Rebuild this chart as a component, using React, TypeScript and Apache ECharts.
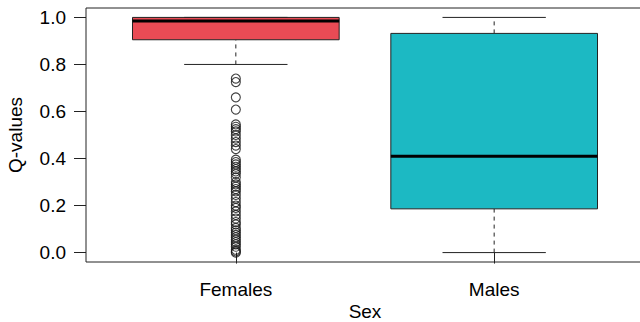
import React, { useEffect, useRef } from "react";
import * as echarts from "echarts";

const categories = ["Females", "Males"];
const whiskerLow = [0.8, 0.0];
const q1 = [0.905, 0.186];
const medians = [0.985, 0.41];
const q3 = [1.0, 0.932];
const whiskerHigh = [1.0, 1.0];
const boxColors = ["#E94B55", "#1CB9C3"];
const femaleOutliers = [
  0.74, 0.725, 0.66, 0.608, 0.545, 0.535, 0.525, 0.515, 0.5, 0.485, 0.47, 0.455, 0.44,
  0.395, 0.385, 0.375, 0.365, 0.355, 0.345, 0.335, 0.32, 0.3, 0.29, 0.28, 0.27, 0.26,
  0.245, 0.23, 0.215, 0.2, 0.19, 0.175, 0.16, 0.145, 0.13, 0.12, 0.105, 0.095, 0.085,
  0.075, 0.065, 0.055, 0.045, 0.035, 0.025, 0.012, 0.005, 0.0,
];
const yTicks = [0, 0.2, 0.4, 0.6, 0.8, 1.0];
const xTicks = [1, 2];

const FONT = "'Liberation Sans', Arial, sans-serif";

export default function App() {
  const ref = useRef<HTMLDivElement>(null);
  useEffect(() => {
    if (!ref.current) return;
    const chart = echarts.init(ref.current, null, { renderer: "svg" });
    const boxData = categories.map((_, i) => [
      i + 1,
      whiskerLow[i],
      q1[i],
      medians[i],
      q3[i],
      whiskerHigh[i],
    ]);
    const outlierData = femaleOutliers.map((v) => [1, v]);
    chart.setOption({
      animation: false,
      textStyle: { fontFamily: FONT },
      grid: {
        left: 86,
        top: 8,
        right: -4,
        bottom: 60,
        outerBoundsMode: "none",
        containLabel: false,
        show: true,
        borderColor: "#222",
        borderWidth: 1,
        backgroundColor: "transparent",
      },
      xAxis: {
        type: "value",
        min: 0.42,
        max: 2.58,
        name: "Sex",
        nameLocation: "middle",
        nameMoveOverlap: false,
        nameGap: 40,
        nameTextStyle: { fontSize: 19, color: "#000", fontFamily: FONT, lineHeight: 19 },
        axisLine: { show: false },
        splitLine: { show: false },
        axisTick: {
          show: true,
          customValues: xTicks,
          length: 11,
          lineStyle: { color: "#222", width: 1 },
        },
        axisLabel: {
          customValues: xTicks,
          formatter: (v: number) => categories[Math.round(v) - 1] ?? "",
          fontSize: 19,
          color: "#000",
          margin: 18,
          fontFamily: FONT,
        },
      },
      yAxis: {
        type: "value",
        min: -0.04,
        max: 1.04,
        name: "Q-values",
        nameLocation: "middle",
        nameMoveOverlap: false,
        nameRotate: 90,
        nameGap: 61,
        nameTextStyle: { fontSize: 19, color: "#000", fontFamily: FONT },
        axisLine: { show: false },
        splitLine: { show: false },
        axisTick: {
          show: true,
          customValues: yTicks,
          length: 12,
          lineStyle: { color: "#222", width: 1 },
        },
        axisLabel: {
          customValues: yTicks,
          formatter: (v: number) => v.toFixed(1),
          fontSize: 19,
          color: "#000",
          margin: 20,
          fontFamily: FONT,
        },
      },
      series: [
        {
          type: "custom",
          data: boxData,
          dimensions: ["x", "lo", "q1", "med", "q3", "hi"],
          encode: { x: 0, y: [1, 2, 3, 4, 5] },
          renderItem: (params: any, api: any) => {
            const x = api.value(0);
            const lo = api.value(1);
            const a = api.value(2);
            const med = api.value(3);
            const b = api.value(4);
            const hi = api.value(5);
            const color = boxColors[params.dataIndex];
            const c = (xx: number, yy: number) => api.coord([xx, yy]);
            const pLo = c(x, lo);
            const pQ1 = c(x, a);
            const pQ3 = c(x, b);
            const pHi = c(x, hi);
            const capL = c(x - 0.2, lo)[0];
            const capR = c(x + 0.2, lo)[0];
            const boxL = c(x - 0.4, a)[0];
            const boxR = c(x + 0.4, a)[0];
            const pMed = c(x, med);
            const stroke = "#222";
            return {
              type: "group",
              children: [
                {
                  type: "line",
                  shape: { x1: pLo[0], y1: pLo[1], x2: pQ1[0], y2: pQ1[1] },
                  style: { stroke, lineWidth: 1, lineDash: [4, 4] },
                },
                {
                  type: "line",
                  shape: { x1: pQ3[0], y1: pQ3[1], x2: pHi[0], y2: pHi[1] },
                  style: { stroke, lineWidth: 1, lineDash: [4, 4] },
                },
                {
                  type: "line",
                  shape: { x1: capL, y1: pLo[1], x2: capR, y2: pLo[1] },
                  style: { stroke, lineWidth: 1 },
                },
                {
                  type: "line",
                  shape: { x1: capL, y1: pHi[1], x2: capR, y2: pHi[1] },
                  style: { stroke, lineWidth: 1 },
                },
                {
                  type: "rect",
                  shape: {
                    x: boxL,
                    y: pQ3[1],
                    width: boxR - boxL,
                    height: pQ1[1] - pQ3[1],
                  },
                  style: { fill: color, stroke, lineWidth: 1 },
                },
                {
                  type: "line",
                  shape: { x1: boxL, y1: pMed[1], x2: boxR, y2: pMed[1] },
                  style: { stroke: "#000", lineWidth: 3 },
                },
              ],
            };
          },
          z: 2,
        },
        {
          type: "scatter",
          data: outlierData,
          symbol: "circle",
          symbolSize: 9,
          itemStyle: { color: "transparent", borderColor: "#111", borderWidth: 1.1 },
          z: 3,
        },
      ],
    });
    return () => chart.dispose();
  }, []);
  return (
    <div
      ref={ref}
      style={{ position: "fixed", left: 0, top: 0, width: 640, height: 322, background: "#fff" }}
    />
  );
}
